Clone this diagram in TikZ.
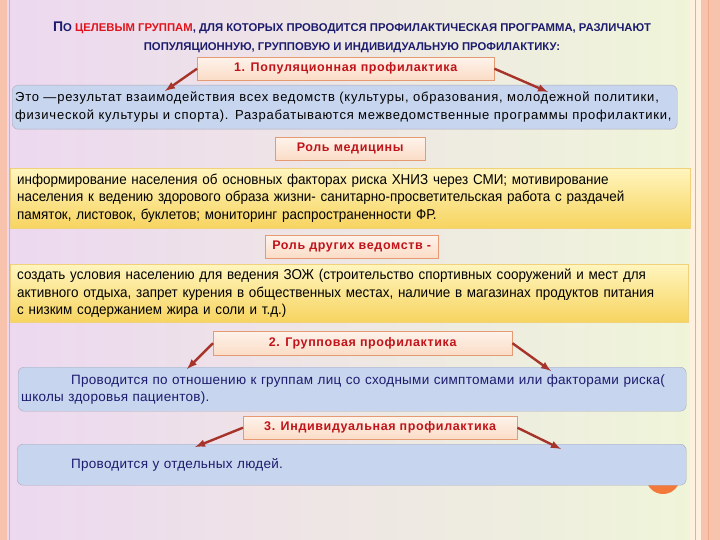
\documentclass[tikz,border=0pt]{standalone}
\usepackage{fontspec}
\setmainfont{Liberation Sans}
\newfontfamily\narrowfont[FakeStretch=0.94]{Liberation Sans}
\newfontfamily\widefont[LetterSpace=6]{Liberation Sans}
\newfontfamily\midfont[LetterSpace=2]{Liberation Sans}
\newfontfamily\lblfont[LetterSpace=5]{Liberation Sans}
\definecolor{salmon}{HTML}{F7C3AC}
\definecolor{salmondk}{HTML}{EFA98C}
\definecolor{lblfill}{HTML}{FBDCC6}
\definecolor{lblline}{HTML}{E49A72}
\definecolor{lbltext}{HTML}{C0141A}
\definecolor{bluefill}{HTML}{C8D5EE}
\definecolor{blueline}{HTML}{A9A9B9}
\definecolor{yeltop}{HTML}{FFF5BE}
\definecolor{yelbot}{HTML}{F7D460}
\definecolor{yelline}{HTML}{F1D27A}
\definecolor{arrowred}{HTML}{A6342B}
\definecolor{navy}{HTML}{1C1C6E}
\definecolor{headred}{HTML}{E0141A}
\definecolor{dotorange}{HTML}{F2793A}
\definecolor{bgleft}{HTML}{EDD8F0}
\definecolor{bgmid}{HTML}{D5EDF3}
\definecolor{bgright}{HTML}{EFF6D8}
\newcommand\smc{\fontsize{11.3}{19}\selectfont}
\begin{document}
\begin{tikzpicture}[x=1pt,y=-1pt,
    lbl/.style={draw=lblline,top color=lblfill!35!white,bottom color=lblfill,anchor=north west,
      minimum height=23,inner sep=0,text=lbltext,font=\lblfont\bfseries\fontsize{12.5}{14}\selectfont},
    bluebox/.style={draw=blueline,fill=bluefill,rounded corners=6,anchor=north west,
      align=left,inner xsep=3,inner ysep=0},
    yelbox/.style={draw=yelline,top color=yeltop,bottom color=yelbot,anchor=north west,
      align=left,inner xsep=7,inner ysep=0,font=\narrowfont\fontsize{14.3}{17.5}\selectfont},
    arr/.style={draw=arrowred,line width=2.4,->,>=latex}]
  % background and side strips
  \fill[left color=bgleft,middle color=bgmid,right color=bgright] (0,0) rectangle (720,540);
  \fill[salmon] (0,0) rectangle (7,540);
  \fill[salmondk] (8.5,0) rectangle (9.5,540);
  \fill[orange!12] (690,0) rectangle (701,540);
  \fill[salmondk] (694.5,0) rectangle (695.5,540);
  \fill[salmon] (701,0) rectangle (720,540);
  \fill[salmondk] (707.5,0) rectangle (708.5,540);

  % heading
  \node[align=center,text=navy,font=\bfseries\smc] (head) at (352,37)
    {{\fontsize{14}{19}\selectfont П}О \textcolor{headred}{ЦЕЛЕВЫМ ГРУППАМ}, ДЛЯ КОТОРЫХ ПРОВОДИТСЯ ПРОФИЛАКТИЧЕСКАЯ ПРОГРАММА, РАЗЛИЧАЮТ\\
     ПОПУЛЯЦИОННУЮ, ГРУППОВУЮ И ИНДИВИДУАЛЬНУЮ ПРОФИЛАКТИКУ:};

  % 1. population
  \node[bluebox,minimum height=44,text width=659,font=\widefont\fontsize{13}{18}\selectfont] (popbox) at (12,85)
    {Это —результат взаимодействия всех ведомств (культуры, образования, молодежной политики,\\
     физической культуры и спорта). Разрабатываются межведомственные  программы профилактики,};
  \node[lbl,minimum width=297] (pop) at (197,57) {1. Популяционная профилактика};
  \coordinate (popl) at (165,91);
  \coordinate (popr) at (548,92);
  \draw[arr] (pop.west) -- (popl);
  \draw[arr] (pop.east) -- (popr);

  \node[lbl,minimum width=150] (med) at (275,137) {Роль медицины};
  \node[yelbox,minimum height=60,text width=666] (medbox) at (10,168)
    {информирование населения об основных  факторах риска ХНИЗ через СМИ; мотивирование\\
     населения к ведению здорового образа жизни- санитарно-просветительская работа с раздачей\\
     памяток, листовок, буклетов; мониторинг распространенности ФР.};

  \node[lbl,minimum width=173] (dept) at (265,235) {Роль других ведомств -};
  \node[yelbox,minimum height=58,text width=664] (deptbox) at (10,264)
    {создать условия населению для ведения ЗОЖ (строительство спортивных сооружений и мест для\\
     активного отдыха, запрет курения в общественных местах, наличие в магазинах продуктов питания\\
     с низким содержанием жира и соли и т.д.)};

  % 2. group
  \node[bluebox,minimum height=44,text width=662,text=navy,font=\midfont\fontsize{13.5}{17}\selectfont] (grpbox) at (18,367)
    {\hspace*{50pt}Проводится по отношению к группам лиц со сходными симптомами или факторами риска(\\
     школы здоровья пациентов).};
  \node[lbl,minimum width=299,minimum height=24] (grp) at (213,331) {2. Групповая профилактика};
  \coordinate (grpl) at (187,369);
  \coordinate (grpr) at (551,371);
  \draw[arr] (grp.west) -- (grpl);
  \draw[arr] (grp.east) -- (grpr);

  % 3. individual
  \fill[dotorange] (663,477) circle (17);
  \node[bluebox,minimum height=41,text width=663,text=navy,font=\midfont\fontsize{13.5}{17}\selectfont] (indbox) at (17,444)
    {\hspace*{51pt}Проводится у  отдельных людей.};
  \node[lbl,minimum width=274] (ind) at (243,416) {3. Индивидуальная профилактика};
  \coordinate (indl) at (195,447);
  \coordinate (indr) at (561,449);
  \draw[arr] (ind.west) -- (indl);
  \draw[arr] (ind.east) -- (indr);
\end{tikzpicture}
\end{document}
